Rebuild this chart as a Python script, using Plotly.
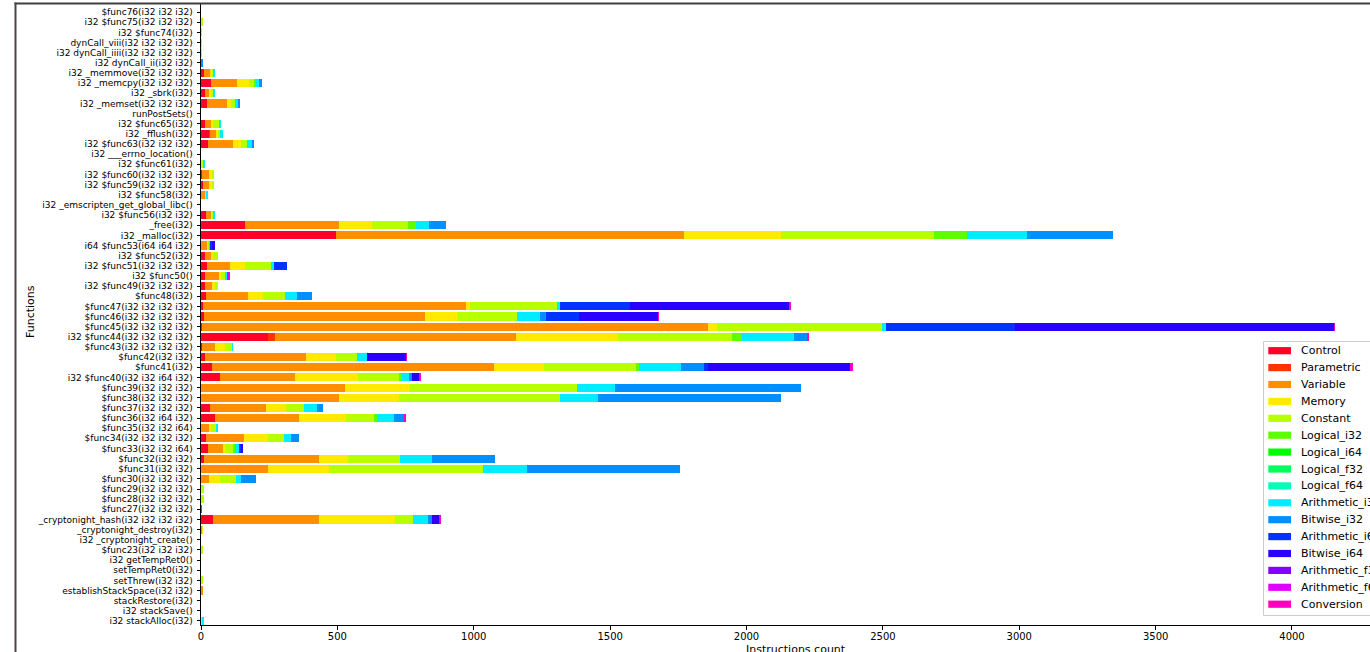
import plotly.graph_objects as go

# ---------------- data (top-to-bottom order, as shown) ----------------
functions = [
    "$func76(i32 i32 i32)", "i32 $func75(i32 i32 i32)", "i32 $func74(i32)",
    "dynCall_viii(i32 i32 i32 i32)", "i32 dynCall_iiii(i32 i32 i32 i32)", "i32 dynCall_ii(i32 i32)",
    "i32 _memmove(i32 i32 i32)", "i32 _memcpy(i32 i32 i32)", "i32 _sbrk(i32)",
    "i32 _memset(i32 i32 i32)", "runPostSets()", "i32 $func65(i32)",
    "i32 _fflush(i32)", "i32 $func63(i32 i32 i32)", "i32 ___errno_location()",
    "i32 $func61(i32)", "i32 $func60(i32 i32 i32)", "i32 $func59(i32 i32 i32)",
    "i32 $func58(i32)", "i32 _emscripten_get_global_libc()", "i32 $func56(i32 i32)",
    "_free(i32)", "i32 _malloc(i32)", "i64 $func53(i64 i64 i32)",
    "i32 $func52(i32)", "i32 $func51(i32 i32 i32)", "i32 $func50()",
    "i32 $func49(i32 i32 i32)", "$func48(i32)", "$func47(i32 i32 i32 i32)",
    "$func46(i32 i32 i32 i32)", "$func45(i32 i32 i32 i32)", "i32 $func44(i32 i32 i32 i32)",
    "$func43(i32 i32 i32 i32)", "$func42(i32 i32)", "$func41(i32)",
    "i32 $func40(i32 i32 i64 i32)", "$func39(i32 i32 i32)", "$func38(i32 i32 i32)",
    "$func37(i32 i32 i32)", "$func36(i32 i64 i32)", "$func35(i32 i32 i64)",
    "$func34(i32 i32 i32 i32)", "$func33(i32 i32 i64)", "$func32(i32 i32)",
    "$func31(i32 i32)", "$func30(i32 i32 i32)", "$func29(i32 i32 i32)",
    "$func28(i32 i32 i32)", "$func27(i32 i32 i32)", "_cryptonight_hash(i32 i32 i32 i32)",
    "_cryptonight_destroy(i32)", "i32 _cryptonight_create()", "$func23(i32 i32 i32)",
    "i32 getTempRet0()", "setTempRet0(i32)", "setThrew(i32 i32)",
    "establishStackSpace(i32 i32)", "stackRestore(i32)", "i32 stackSave()",
    "i32 stackAlloc(i32)",
]

series_names = ["Control", "Parametric", "Variable", "Memory", "Constant",
                "Logical_i32", "Logical_i64", "Logical_f32", "Logical_f64",
                "Arithmetic_i32", "Bitwise_i32", "Arithmetic_i64", "Bitwise_i64",
                "Arithmetic_f32", "Arithmetic_f64", "Conversion"]

series_colors = ["#ff0029", "#ff3300", "#ff8e00", "#ffea00", "#b8ff00",
                 "#5cff00", "#00ff00", "#00ff5b", "#00ffb7",
                 "#00ecff", "#008fff", "#0033ff", "#2a00ff",
                 "#8600ff", "#e200ff", "#ff00bf"]

x_ticks = [0, 500, 1000, 1500, 2000, 2500, 3000, 3500, 4000]

control = [0, 0, 0, 0, 0, 0, 11, 37, 16, 23,
           0, 13, 30, 26, 0, 0, 5, 7, 0, 0,
           17, 160, 494, 0, 16, 23, 13, 16, 20, 6,
           10, 5, 246, 2, 13, 39, 69, 1, 0, 33,
           52, 0, 18, 25, 10, 0, 0, 0, 0, 0,
           43, 0, 0, 0, 0, 0, 0, 0, 0, 0,
           0]
parametric = [0, 0, 0, 0, 0, 0, 0, 0, 0, 0,
              0, 0, 4, 0, 0, 0, 0, 0, 0, 0,
              0, 0, 0, 0, 0, 0, 0, 0, 0, 0,
              0, 0, 26, 0, 0, 0, 0, 0, 0, 0,
              0, 0, 0, 0, 0, 0, 0, 0, 0, 0,
              0, 0, 0, 0, 0, 0, 0, 0, 0, 0,
              0]
variable = [0, 0, 0, 0, 0, 0, 24, 94, 16, 71,
            0, 22, 21, 90, 0, 0, 23, 24, 18, 0,
            20, 345, 1276, 25, 23, 82, 54, 26, 152, 964,
            812, 1854, 884, 49, 372, 1035, 275, 526, 506, 205,
            309, 28, 139, 57, 422, 247, 28, 0, 0, 0,
            390, 4, 0, 0, 0, 0, 1, 4, 0, 0,
            3]
memory = [0, 1, 0, 0, 0, 0, 6, 46, 6, 15,
          0, 10, 7, 29, 0, 2, 13, 12, 0, 0,
          5, 123, 358, 4, 6, 57, 8, 11, 56, 16,
          121, 32, 373, 38, 110, 185, 231, 239, 219, 74,
          169, 10, 88, 7, 108, 221, 41, 1, 1, 0,
          278, 2, 0, 0, 0, 0, 0, 0, 0, 0,
          0]
constant = [0, 3, 3, 3, 3, 0, 4, 20, 6, 15,
            0, 20, 10, 24, 0, 6, 4, 6, 2, 0,
            5, 131, 561, 3, 16, 98, 13, 8, 79, 319,
            216, 606, 417, 25, 77, 337, 154, 612, 593, 67,
            106, 18, 61, 31, 188, 565, 59, 10, 10, 0,
            65, 0, 0, 4, 0, 0, 6, 0, 0, 0,
            2]
logical_i32 = [0, 0, 0, 0, 0, 0, 1, 6, 0, 0,
               0, 0, 0, 0, 0, 0, 0, 0, 0, 0,
               0, 31, 121, 0, 0, 0, 0, 0, 0, 0,
               0, 0, 36, 0, 0, 11, 7, 0, 0, 0,
               10, 0, 0, 5, 0, 0, 0, 0, 0, 0,
               0, 0, 0, 0, 0, 0, 0, 0, 0, 0,
               0]
logical_i64 = [0, 0, 0, 0, 0, 0, 0, 0, 0, 0,
               0, 0, 0, 0, 0, 0, 0, 0, 0, 0,
               0, 0, 0, 0, 0, 0, 0, 0, 0, 0,
               0, 0, 0, 0, 0, 0, 0, 0, 0, 0,
               0, 0, 0, 0, 0, 0, 0, 0, 0, 0,
               0, 0, 0, 0, 0, 0, 0, 0, 0, 0,
               0]
logical_f32 = [0, 0, 0, 0, 0, 0, 0, 0, 0, 0,
               0, 0, 0, 0, 0, 0, 0, 0, 0, 0,
               0, 0, 0, 0, 0, 0, 0, 0, 0, 0,
               0, 0, 0, 0, 0, 0, 0, 0, 0, 0,
               0, 0, 0, 0, 0, 0, 0, 0, 0, 0,
               0, 0, 0, 0, 0, 0, 0, 0, 0, 0,
               0]
logical_f64 = [0, 0, 0, 0, 0, 0, 0, 0, 0, 0,
               0, 0, 0, 0, 0, 0, 0, 0, 0, 0,
               0, 0, 0, 0, 0, 0, 0, 0, 0, 0,
               0, 0, 0, 0, 0, 0, 0, 0, 0, 0,
               0, 0, 0, 0, 0, 0, 0, 0, 0, 0,
               0, 0, 0, 0, 0, 0, 0, 0, 0, 0,
               0]
arithmetic_i32 = [0, 0, 0, 0, 0, 1, 5, 13, 9, 10,
                  0, 10, 7, 18, 0, 4, 0, 0, 4, 0,
                  6, 46, 217, 3, 0, 6, 10, 0, 44, 10,
                  83, 16, 192, 3, 36, 154, 26, 139, 136, 46,
                  61, 3, 23, 16, 120, 162, 18, 0, 0, 0,
                  56, 0, 0, 0, 0, 0, 0, 0, 0, 0,
                  4]
bitwise_i32 = [0, 0, 0, 0, 0, 4, 0, 6, 0, 9,
               0, 0, 0, 5, 0, 0, 0, 0, 0, 0,
               0, 64, 316, 0, 0, 0, 0, 0, 56, 0,
               23, 0, 46, 0, 0, 85, 13, 684, 674, 23,
               38, 0, 31, 0, 231, 560, 56, 0, 0, 0,
               15, 0, 0, 0, 0, 0, 0, 0, 0, 0,
               0]
arithmetic_i64 = [0, 0, 0, 0, 0, 0, 0, 0, 0, 0,
                  0, 0, 0, 0, 0, 0, 0, 0, 0, 0,
                  0, 0, 0, 6, 0, 49, 0, 0, 0, 257,
                  120, 470, 0, 0, 0, 13, 0, 0, 0, 0,
                  0, 0, 0, 5, 0, 0, 0, 0, 0, 0,
                  0, 0, 0, 0, 0, 0, 0, 0, 0, 0,
                  0]
bitwise_i64 = [0, 0, 0, 0, 0, 0, 0, 0, 0, 0,
               0, 0, 0, 0, 0, 0, 0, 0, 0, 0,
               0, 0, 0, 10, 0, 0, 0, 0, 0, 586,
               291, 1171, 0, 0, 144, 521, 25, 0, 0, 0,
               0, 0, 0, 8, 0, 0, 0, 0, 0, 0,
               29, 0, 0, 0, 0, 0, 0, 0, 0, 0,
               0]
arithmetic_f32 = [0, 0, 0, 0, 0, 0, 0, 0, 0, 0,
                  0, 0, 0, 0, 0, 0, 0, 0, 0, 0,
                  0, 0, 0, 0, 0, 0, 0, 0, 0, 0,
                  0, 0, 0, 0, 0, 0, 0, 0, 0, 0,
                  0, 0, 0, 0, 0, 0, 0, 0, 0, 0,
                  0, 0, 0, 0, 0, 0, 0, 0, 0, 0,
                  0]
arithmetic_f64 = [0, 0, 0, 0, 0, 0, 0, 0, 0, 0,
                  0, 0, 0, 0, 0, 0, 0, 0, 0, 0,
                  0, 0, 0, 0, 0, 0, 5, 0, 0, 0,
                  0, 0, 0, 0, 0, 0, 0, 0, 0, 0,
                  0, 0, 0, 0, 0, 0, 0, 0, 0, 0,
                  0, 0, 0, 0, 0, 0, 0, 0, 0, 0,
                  0]
conversion = [0, 0, 0, 0, 0, 0, 0, 0, 0, 0,
              0, 0, 0, 0, 0, 0, 0, 0, 0, 0,
              0, 0, 0, 0, 0, 0, 2, 0, 0, 3,
              3, 2, 8, 0, 3, 11, 8, 0, 0, 0,
              3, 0, 0, 0, 0, 0, 0, 0, 0, 3,
              3, 0, 0, 0, 0, 0, 0, 0, 0, 0,
              0]

series_values = [control, parametric, variable, memory, constant,
                 logical_i32, logical_i64, logical_f32, logical_f64,
                 arithmetic_i32, bitwise_i32, arithmetic_i64, bitwise_i64,
                 arithmetic_f32, arithmetic_f64, conversion]

# ---------------- layout geometry ----------------
W, H = 1370, 652
L, R, T, B = 201, 0, 4, 27
PW, PH = W - L - R, H - T - B
X_MAX = 4286
FONT = "DejaVu Sans"


def xp(px):
    return (px - L) / PW


def yp(py):
    return 1 - (py - T) / PH


fig = go.Figure()
for name, color, vals in zip(series_names, series_colors, series_values):
    fig.add_trace(go.Bar(
        y=functions, x=vals, orientation="h", name=name,
        marker=dict(color=color, line=dict(width=0)),
        width=0.8, showlegend=False,
    ))

shapes = []
annotations = []

# outer frame (top and left border of the screenshot), drawn as thin filled rects
shapes.append(dict(type="rect", xref="paper", yref="paper",
                   x0=xp(14.5), x1=xp(1370), y0=yp(2.5), y1=yp(4.5),
                   line=dict(width=0), fillcolor="#3f3f3f", layer="above"))
shapes.append(dict(type="rect", xref="paper", yref="paper",
                   x0=xp(14.5), x1=xp(16.5), y0=yp(2.5), y1=yp(652),
                   line=dict(width=0), fillcolor="#4a4444", layer="above"))

# legend (matplotlib-style, clipped at the right edge like the reference)
shapes.append(dict(type="rect", xref="paper", yref="paper",
                   x0=xp(1263.5), x1=xp(1420), y0=yp(341.5), y1=yp(615.5),
                   line=dict(color="#cccccc", width=1),
                   fillcolor="rgba(255,255,255,0.85)", layer="above"))
for i, (name, color) in enumerate(zip(series_names, series_colors)):
    cy = 350.7 + i * 16.9
    shapes.append(dict(type="rect", xref="paper", yref="paper",
                       x0=xp(1268.3), x1=xp(1291), y0=yp(cy - 3.6), y1=yp(cy + 3.6),
                       line=dict(width=0), fillcolor=color, layer="above"))
    annotations.append(dict(text=name, xref="paper", yref="paper",
                            x=xp(1298.5), y=yp(cy), xanchor="left", yanchor="middle",
                            showarrow=False, font=dict(family=FONT, size=11, color="#000000")))

# axis titles
annotations.append(dict(text="Functions", xref="paper", yref="paper",
                        x=xp(30), y=yp(312), textangle=-90,
                        xanchor="center", yanchor="middle", showarrow=False,
                        font=dict(family=FONT, size=11, color="#000000")))
annotations.append(dict(text="Instructions count", xref="paper", yref="paper",
                        x=xp(796), y=yp(641.5), xanchor="center", yanchor="top",
                        showarrow=False, font=dict(family=FONT, size=11, color="#000000")))

fig.update_layout(
    width=W, height=H,
    barmode="stack",
    bargap=0.2,
    margin=dict(l=L, r=R, t=T, b=B, pad=0, autoexpand=False),
    paper_bgcolor="#ffffff",
    plot_bgcolor="#ffffff",
    font=dict(family=FONT, color="#000000"),
    showlegend=False,
    shapes=shapes,
    annotations=annotations,
    xaxis=dict(
        range=[0, X_MAX], tickmode="array", tickvals=x_ticks,
        ticktext=[str(v) for v in x_ticks],
        showgrid=False, zeroline=False,
        showline=True, linecolor="#000000", linewidth=1,
        ticks="outside", ticklen=3.5, tickwidth=1, tickcolor="#000000",
        ticklabelstandoff=-2,
        tickfont=dict(family=FONT, size=10, color="#000000"),
    ),
    yaxis=dict(
        type="category", categoryorder="array", categoryarray=functions[::-1],
        tickmode="array", tickvals=functions, ticktext=functions,
        range=[-0.4, 60.8],
        showgrid=False, zeroline=False,
        showline=True, linecolor="#000000", linewidth=1,
        ticks="outside", ticklen=3.5, tickwidth=1, tickcolor="#000000",
        ticklabelstandoff=2,
        tickfont=dict(family=FONT, size=9, color="#000000"),
    ),
)

fig.write_html(
    "out.html",
    config={"displayModeBar": False},
    post_script="document.body.style.margin='0';",
)
